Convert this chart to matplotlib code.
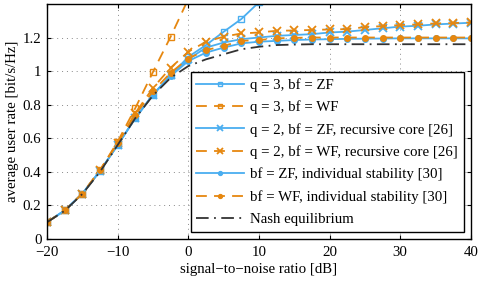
import matplotlib
matplotlib.use("Agg")
import matplotlib.pyplot as plt
import numpy as np

# SNR grid [dB]
snr = [-20, -17.5, -15, -12.5, -10, -7.5, -5, -2.5, 0, 2.5, 5, 7.5, 10, 12.5,
       15, 17.5, 20, 22.5, 25, 27.5, 30, 32.5, 35, 37.5, 40]

# q = 3, bf = ZF
q3_zf = [0.10, 0.17, 0.27, 0.405, 0.56, 0.72, 0.86, 0.975, 1.085, 1.155, 1.234, 1.31, 1.41, 1.52]
# q = 3, bf = WF
q3_wf = [0.10, 0.17, 0.27, 0.41, 0.58, 0.78, 0.995, 1.205, 1.43, 1.66]
# q = 2, bf = ZF, recursive core
q2_zf = [0.10, 0.17, 0.27, 0.405, 0.56, 0.72, 0.86, 0.975, 1.07, 1.14, 1.17, 1.19, 1.20, 1.21,
         1.215, 1.22, 1.23, 1.235, 1.245, 1.255, 1.265, 1.27, 1.278, 1.283, 1.288]
# q = 2, bf = WF, recursive core
q2_wf = [0.10, 0.17, 0.27, 0.41, 0.57, 0.75, 0.90, 1.02, 1.115, 1.175, 1.205, 1.224, 1.23, 1.24,
         1.242, 1.245, 1.248, 1.25, 1.262, 1.268, 1.274, 1.278, 1.284, 1.286, 1.29]
# bf = ZF, individual stability
is_zf = [0.10, 0.17, 0.27, 0.405, 0.56, 0.72, 0.86, 0.97, 1.06, 1.11, 1.14, 1.165, 1.175, 1.18,
         1.185, 1.188, 1.19, 1.192, 1.193, 1.194, 1.195, 1.195, 1.195, 1.195, 1.195]
# bf = WF, individual stability
is_wf = [0.10, 0.17, 0.27, 0.41, 0.57, 0.74, 0.88, 0.99, 1.075, 1.125, 1.15, 1.18, 1.185, 1.195,
         1.198, 1.2, 1.2, 1.2, 1.2, 1.2, 1.2, 1.2, 1.2, 1.2, 1.2]
# Nash equilibrium
nash = [0.10, 0.168, 0.268, 0.40, 0.56, 0.72, 0.855, 0.96, 1.03, 1.07, 1.10, 1.13, 1.145, 1.155,
        1.158, 1.16, 1.16, 1.16, 1.16, 1.16, 1.16, 1.16, 1.16, 1.16, 1.16]

blue = '#4aaef0'
orange = '#e6870f'

plt.rcParams['font.family'] = 'Liberation Serif'
plt.rcParams['font.size'] = 10.7

fig = plt.figure(figsize=(4.8, 2.81), dpi=100)
ax = fig.add_axes([0.098, 0.1495, 0.883, 0.8365])

lw = 1.3
dash = (0, (6, 4))
ax.plot(snr[:len(q3_zf)], q3_zf, color=blue, lw=lw, marker='s', ms=5,
        mfc='none', mec=blue, mew=1.0, label='q = 3, bf = ZF')
ax.plot(snr[:len(q3_wf)], q3_wf, color=orange, lw=lw, ls=dash, marker='s', ms=5,
        mfc='none', mec=orange, mew=1.0, label='q = 3, bf = WF')
ax.plot(snr, q2_zf, color=blue, lw=lw, marker='x', ms=6, mew=1.3,
        label='q = 2, bf = ZF, recursive core [26]')
ax.plot(snr, q2_wf, color=orange, lw=lw, ls=dash, marker='x', ms=6, mew=1.3,
        label='q = 2, bf = WF, recursive core [26]')
ax.plot(snr, is_zf, color=blue, lw=lw, marker='o', ms=4,
        label='bf = ZF, individual stability [30]')
ax.plot(snr, is_wf, color=orange, lw=lw, ls=dash, marker='o', ms=4,
        label='bf = WF, individual stability [30]')
ax.plot(snr, nash, color='#333333', lw=lw, ls=(0, (7, 3, 1, 3)),
        label='Nash equilibrium')

ax.set_xlim(-20, 40)
ax.set_ylim(0, 1.4)
ax.set_xticks([-20, -10, 0, 10, 20, 30, 40])
ax.set_xticklabels(['\u221220', '\u221210', '0', '10', '20', '30', '40'])
ax.set_yticks([0, 0.2, 0.4, 0.6, 0.8, 1.0, 1.2])
ax.set_yticklabels(['0', '0.2', '0.4', '0.6', '0.8', '1', '1.2'])
ax.tick_params(direction='in', top=True, right=True, length=3, width=0.8)
ax.tick_params(axis='x', pad=5)
ax.tick_params(axis='y', pad=4)
ax.grid(True, ls=(0, (1, 4)), color='#888888', lw=0.7)
for s in ax.spines.values():
    s.set_linewidth(1.0)

ax.set_xlabel('signal\u2212to\u2212noise ratio [dB]', labelpad=3)
ax.set_ylabel('average user rate [bit/s/Hz]', labelpad=3)

leg = ax.legend(loc='lower right', bbox_to_anchor=(0.983, 0.031), borderaxespad=0,
                handlelength=3.2, labelspacing=0.58, fancybox=False, framealpha=1,
                edgecolor='black', borderpad=0.4, handletextpad=0.4,
                numpoints=1, markerscale=0.7)
leg.get_frame().set_linewidth(1.0)

fig.savefig('out.png', dpi=100)
